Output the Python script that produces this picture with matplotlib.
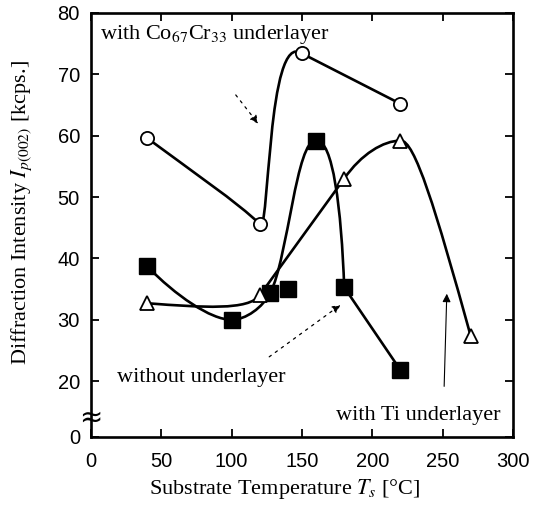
import numpy as np
import matplotlib
matplotlib.use("Agg")
import matplotlib.pyplot as plt
from matplotlib.path import Path
from matplotlib.patches import PathPatch

plt.rcParams['mathtext.fontset'] = 'stix'

# data (temperature in C, intensity in kcps)
cocr_t = [40, 120, 150, 220]
cocr_i = [59.6, 45.6, 73.4, 65.2]

none_t = [40, 100, 127.5, 140, 160, 180, 220]
none_i = [38.7, 30.0, 34.4, 35.1, 59.2, 35.3, 21.8]

ti_t = [40, 120, 180, 220, 270]
ti_i = [32.7, 34.0, 53.0, 59.2, 27.3]

xticks = [0, 50, 100, 150, 200, 250, 300]
yticks = [20, 30, 40, 50, 60, 70, 80]
ybot = 10.9  # broken axis: bottom edge is labelled 0

# hand-drawn curve shape: bezier handles (start dx, dy, end dx, dy) per segment,
# None -> straight segment
cocr_handles = [(30, -5.1, -15, 3.4), (7, -2.5, -25, 4.0), None]
none_curve = [0, 1, 2, 4, 5, 6]   # the 140 C point sits off the drawn curve
none_handles = [(20, -4.7, -15, 0.0), (10, 0.0, -5.5, -2.4),
                (12.5, 5.6, -14, 0.4), (12, 0.3, -2, 12.7), None]
ti_handles = [(40, -0.7, -8, -2.5), (20, 6.3, -15, -4.7),
              (12, 4.0, -12, 0.0), (10, 0.2, -25, 20.7)]


def curve(ax, xs, ys, handles):
    verts = [(xs[0], ys[0])]
    codes = [Path.MOVETO]
    for k, h in enumerate(handles):
        x0, y0, x1, y1 = xs[k], ys[k], xs[k + 1], ys[k + 1]
        if h is None:
            verts.append((x1, y1))
            codes.append(Path.LINETO)
        else:
            verts += [(x0 + h[0], y0 + h[1]), (x1 + h[2], y1 + h[3]), (x1, y1)]
            codes += [Path.CURVE4] * 3
    ax.add_patch(PathPatch(Path(verts, codes), fill=False, lw=1.9,
                           color='black', zorder=2, capstyle='round'))


fig = plt.figure(figsize=(5.43, 5.07), dpi=100)
ax = fig.add_axes([91 / 543, 1 - 437 / 507, 422 / 543, 424 / 507])

curve(ax, cocr_t, cocr_i, cocr_handles)
curve(ax, [none_t[k] for k in none_curve], [none_i[k] for k in none_curve], none_handles)
curve(ax, ti_t, ti_i, ti_handles)

ax.plot(cocr_t, cocr_i, 'o', ms=9.5, mfc='white', mec='black', mew=1.3, zorder=3)
ax.plot(none_t, none_i, 's', ms=11, mfc='black', mec='black', zorder=3)
ax.plot(ti_t, ti_i, '^', ms=9.5, mfc='white', mec='black', mew=1.3, zorder=3)

ax.set_xlim(0, 300)
ax.set_ylim(ybot, 80)
ax.set_xticks(xticks)
ax.set_yticks([ybot] + yticks)
ax.set_yticklabels(['0'] + [str(v) for v in yticks])
ax.tick_params(direction='in', length=6, width=1.3, labelsize=14.5,
               top=True, right=True)
ax.tick_params(axis='x', pad=11)
ax.tick_params(axis='y', pad=8)
for lab in ax.get_xticklabels() + ax.get_yticklabels():
    lab.set_family('Liberation Sans')
for s in ax.spines.values():
    s.set_linewidth(1.9)

serif = ['Liberation Serif', 'DejaVu Serif']
ax.set_xlabel(r'Substrate Temperature $T_s$ [°C]', family=serif, fontsize=16)
ax.set_ylabel(r'Diffraction Intensity $I_{p(002)}$ [kcps.]', family=serif,
              fontsize=16)
ax.xaxis.set_label_coords(0.458, -0.095)
ax.yaxis.set_label_coords(-0.135, 0.53)

# axis break mark
ax.text(0, 14.1, '≈', transform=ax.get_yaxis_transform(), fontsize=20,
        ha='center', va='center', family='DejaVu Sans')

ax.text(6.4, 75.7, r'with Co$_{67}$Cr$_{33}$ underlayer', family=serif, fontsize=16)
ax.text(18.5, 19.8, 'without underlayer', family=serif, fontsize=16)
ax.text(174, 13.7, 'with Ti underlayer', family=serif, fontsize=16)

ax.annotate('', xy=(120.1, 61.6), xytext=(101.7, 67.0),
            arrowprops=dict(arrowstyle='-|>', lw=0.9, ls=(0, (2, 4)),
                            color='black', mutation_scale=12))
ax.annotate('', xy=(179, 32.7), xytext=(125.1, 23.7),
            arrowprops=dict(arrowstyle='-|>', lw=0.9, ls=(0, (2, 4)),
                            color='black', mutation_scale=12))
ax.annotate('', xy=(253, 34.7), xytext=(251, 18.7),
            arrowprops=dict(arrowstyle='-|>', lw=0.8, color='black',
                            mutation_scale=12))

fig.savefig('out.png', dpi=100)
